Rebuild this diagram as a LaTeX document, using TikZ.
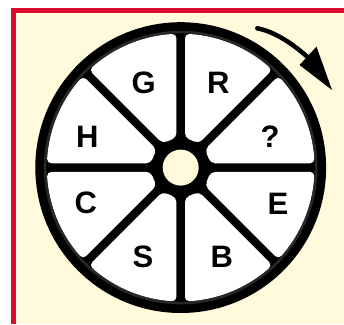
\documentclass[tikz,border=0pt]{standalone}
\usepackage{fontspec}
\setmainfont{Liberation Sans}
\newfontfamily\letterfont{Liberation Sans Bold}[Scale=3.1]
\definecolor{framered}{RGB}{218,12,45}
\definecolor{cream}{RGB}{255,250,220}
\definecolor{ringgray}{RGB}{40,40,40}
\begin{document}
\begin{tikzpicture}[x=1pt,y=1pt,
  letter/.style={font=\letterfont, inner sep=0pt, anchor=center},
  sectorfill/.style={fill=white, rounded corners=4.5pt}]
\useasboundingbox (0,0) rectangle (344,324);
\fill[white] (0,0) rectangle (344,324);
\fill[framered] (11,0) rectangle (344,316);
\fill[cream] (16,0) rectangle (344,311);
% wheel
\coordinate (c) at (180.7,156.4);
\begin{scope}[shift={(c)}]
  \fill[black] (0,0) circle (145.4);
  \draw[ringgray, line width=2.5pt] (0,0) circle (135.5);
  \foreach \a in {0,45,...,315}{
    \pgfmathsetmacro{\b}{\a+45}
    \fill[sectorfill]
      ([shift={(\a+90:4.3)}]\a:30) --
      ([shift={(\a+90:4.3)}]\a:133.9)
      \foreach \k in {1,...,7}{ -- ({\a+1.84+\k*(41.32/8)}:134) }
      -- ([shift={(\b-90:4.3)}]\b:133.9)
      -- ([shift={(\b-90:4.3)}]\b:30) -- cycle;
  }
  \fill[cream] (0,0) circle (18);
\end{scope}
% letters
\node[letter] (g) at (143.8,241) {G};
\node[letter] (r) at (218.3,241) {R};
\node[letter] (q) at (270.0,187.5) {?};
\node[letter] (e) at (278.0,120.5) {E};
\node[letter] (bb) at (221.7,67.5) {B};
\node[letter] (s) at (143.0,67.5) {S};
\node[letter] (cc) at (85.7,121) {C};
\node[letter] (h) at (87.3,187.5) {H};
% rotation arrow
\coordinate (astart) at (257.3,295.7);
\coordinate (aend) at (307.5,267);
\coordinate (hl) at (299.5,259);
\coordinate (hr) at (316.5,277.3);
\coordinate (tip) at (332,234);
\draw[black, line width=4.5pt, line cap=round] (astart) .. controls (276,292) and (294,279) .. (aend);
\fill[black] (hl) -- (hr) -- (tip) -- cycle;
\end{tikzpicture}
\end{document}
